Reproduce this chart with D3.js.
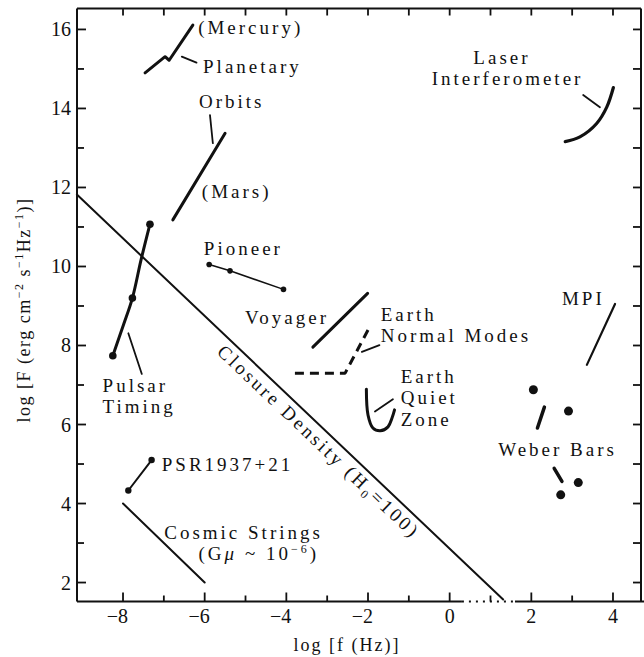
<!DOCTYPE html>
<html>
<head>
<meta charset="utf-8">
<script src="https://cdn.jsdelivr.net/npm/d3@7"></script>
<style>
body { margin: 0; background: #fff; }
svg { display: block; }
text { font-family: "Liberation Serif", "DejaVu Serif", serif; fill: #111; }
.lbl { font-size: 19px; letter-spacing: 3px; }
.tick-lbl { font-size: 20px; }
</style>
</head>
<body>
<svg width="644" height="657"></svg>
<script>
// axis ticks
const xTicksMajor = [-8, -6, -4, -2, 0, 2, 4];
const xTicksAll = [-8, -7, -6, -5, -4, -3, -2, -1, 0, 1, 2, 3, 4];
const yTicksMajor = [2, 4, 6, 8, 10, 12, 14, 16];
const yTicksAll = [2, 3, 4, 5, 6, 7, 8, 9, 10, 11, 12, 13, 14, 15, 16];

// curves, [log f, log F]
const closure = [[-9.13, 11.82], [1.31, 1.57]];
const mercury = [[-7.46, 14.90], [-6.97, 15.31], [-6.87, 15.22], [-6.29, 16.11]];
const mars = [[-6.78, 11.18], [-5.50, 13.37]];
const pioneer = [[-5.89, 10.05], [-5.38, 9.89], [-4.07, 9.42]];
const voyager = [[-3.35, 7.96], [-2.01, 9.32]];
const normalModes = [[-3.79, 7.30], [-2.56, 7.30], [-1.99, 8.41]];
const quietZone = [[-2.04, 6.89], [-2.00, 6.24], [-1.88, 5.91], [-1.70, 5.84], [-1.51, 5.94], [-1.41, 6.17], [-1.35, 6.37]];
const pulsar = [[-8.25, 7.74], [-7.99, 8.52], [-7.77, 9.20], [-7.56, 10.16], [-7.34, 11.07]];
const pulsarDots = [[-8.25, 7.74], [-7.77, 9.20], [-7.34, 11.07]];
const psr1937 = [[-7.87, 4.33], [-7.30, 5.10]];
const cosmicStrings = [[-8, 4], [-6, 2]];
const laser = [[2.83, 13.16], [3.19, 13.28], [3.60, 13.62], [3.85, 14.04], [4.01, 14.53]];
const mpi = [[3.36, 7.51], [4.05, 9.05]];
const weberDots = [[2.05, 6.88], [2.91, 6.34], [3.15, 4.53], [2.72, 4.22]];

// pointer lines from labels
const leaders = [
  [[-6.56, 15.31], [-6.20, 15.16]],
  [[-5.87, 13.83], [-5.80, 13.12]],
  [[-7.87, 8.31], [-7.54, 7.28]],
  [[-2.15, 7.84], [-1.72, 8.01]],
  [[-1.83, 6.33], [-1.39, 6.64]],
  [[3.27, 14.34], [3.68, 14.03]]
];
const weberStrokes = [
  [[2.32, 6.44], [2.15, 5.91]],
  [[2.56, 4.89], [2.75, 4.56]]
];

const labels = [
  ["(Mercury)", -6.16, 15.88],
  ["Planetary", -6.04, 14.89],
  ["Orbits", -6.14, 14.01],
  ["(Mars)", -6.07, 11.73],
  ["Pioneer", -6.02, 10.29],
  ["Voyager", -5.01, 8.55],
  ["Earth", -1.69, 8.63],
  ["Normal Modes", -1.69, 8.10],
  ["Earth", -1.20, 7.06],
  ["Quiet", -1.20, 6.52],
  ["Zone", -1.20, 5.96],
  ["Pulsar", -8.50, 6.83],
  ["Timing", -8.50, 6.29],
  ["PSR1937+21", -7.05, 4.83],
  ["Cosmic Strings", -6.99, 3.10],
  ["Laser", 0.58, 15.12],
  ["Interferometer", -0.44, 14.59],
  ["MPI", 2.75, 9.03],
  ["Weber Bars", 1.19, 5.21]
];

var svg = d3.select("svg");
const L = 77, R = 641, T = 8.5, B = 601.5;

var x = d3.scaleLinear().domain([-9.127, 4.686]).range([L, R]);
var y = d3.scaleLinear().domain([1.52, 16.53]).range([B, T]);

var line = d3.line().x(d => x(d[0])).y(d => y(d[1]));
var smooth = d3.line().x(d => x(d[0])).y(d => y(d[1])).curve(d3.curveCatmullRom);

function path(data, w, gen, dash) {
  var p = svg.append("path")
    .attr("d", (gen || line)(data))
    .attr("fill", "none")
    .attr("stroke", "#111")
    .attr("stroke-width", w)
    .attr("stroke-linecap", "round")
    .attr("stroke-linejoin", "round");
  if (dash) p.attr("stroke-dasharray", dash).attr("stroke-linecap", "butt");
  return p;
}

function dots(data, r) {
  svg.append("g").selectAll("circle")
    .data(data)
    .enter()
    .append("circle")
    .attr("cx", d => x(d[0]))
    .attr("cy", d => y(d[1]))
    .attr("r", r)
    .attr("fill", "#111");
}

// frame
var frame = svg.append("g").attr("stroke", "#111").attr("stroke-width", 2);
frame.append("line").attr("x1", L).attr("x2", L).attr("y1", T).attr("y2", B);
frame.append("line").attr("x1", R).attr("x2", R).attr("y1", T).attr("y2", B);
frame.append("line").attr("x1", L).attr("x2", R).attr("y1", T).attr("y2", T);
frame.append("line").attr("x1", L).attr("x2", x(0.3)).attr("y1", B).attr("y2", B);
frame.append("line").attr("x1", x(0.3)).attr("x2", x(1.6)).attr("y1", B).attr("y2", B)
  .attr("stroke-dasharray", "2,5");
frame.append("line").attr("x1", x(1.6)).attr("x2", 644).attr("y1", B).attr("y2", B);

// ticks, all pointing inward
var ticks = svg.append("g").attr("stroke", "#111").attr("stroke-width", 1.8);
xTicksAll.forEach(function(v) {
  var len = xTicksMajor.includes(v) ? 9 : 6;
  ticks.append("line").attr("x1", x(v)).attr("x2", x(v)).attr("y1", B).attr("y2", B - len);
  ticks.append("line").attr("x1", x(v)).attr("x2", x(v)).attr("y1", T).attr("y2", T + 7);
});
yTicksAll.forEach(function(v) {
  var len = yTicksMajor.includes(v) ? 9 : 7;
  ticks.append("line").attr("x1", L).attr("x2", L + len).attr("y1", y(v)).attr("y2", y(v));
  ticks.append("line").attr("x1", R).attr("x2", R - 8).attr("y1", y(v)).attr("y2", y(v));
});

// tick labels
svg.append("g").selectAll("text")
  .data(xTicksMajor)
  .enter()
  .append("text")
  .attr("class", "tick-lbl")
  .attr("x", d => x(d) + 5)
  .attr("y", B + 21)
  .attr("text-anchor", "end")
  .text(d => d < 0 ? "\u2212" + Math.abs(d) : d);

svg.append("g").selectAll("text")
  .data(yTicksMajor)
  .enter()
  .append("text")
  .attr("class", "tick-lbl")
  .attr("x", L - 6)
  .attr("y", d => y(d) + 7)
  .attr("text-anchor", "end")
  .text(d => d);

// axis titles
svg.append("text")
  .attr("x", 347).attr("y", 651)
  .attr("text-anchor", "middle")
  .style("font-size", "18px").style("letter-spacing", "2px")
  .text("log [f (Hz)]");

var yt = svg.append("text")
  .attr("transform", "translate(30,310) rotate(-90)")
  .attr("text-anchor", "middle")
  .style("font-size", "18px").style("letter-spacing", "1.5px");
yt.append("tspan").text("log [F (erg cm");
yt.append("tspan").attr("dy", -7).style("font-size", "12px").text("\u22122");
yt.append("tspan").attr("dy", 7).text(" s");
yt.append("tspan").attr("dy", -7).style("font-size", "12px").text("\u22121");
yt.append("tspan").attr("dy", 7).text("Hz");
yt.append("tspan").attr("dy", -7).style("font-size", "12px").text("\u22121");
yt.append("tspan").attr("dy", 7).text(")]");

// closure density
path(closure, 2);
var a = Math.atan2(y(closure[1][1]) - y(closure[0][1]), x(closure[1][0]) - x(closure[0][0]));
var px = x(-5.4), py = y(closure[0][1] + (closure[1][1] - closure[0][1]) * (-5.4 - closure[0][0]) / (closure[1][0] - closure[0][0]));
var bx = px - 19 * Math.sin(a), by = py + 19 * Math.cos(a);
var ct = svg.append("text")
  .attr("class", "lbl")
  .attr("transform", "translate(" + bx + "," + by + ") rotate(" + (a * 180 / Math.PI) + ")");
ct.append("tspan").text("Closure Density (H");
ct.append("tspan").attr("dy", 4).style("font-size", "12px").text("0");
ct.append("tspan").attr("dy", -4).text("=100)");

// sources
path(mercury, 3);
path(mars, 3);
path(pioneer, 1.5);
dots(pioneer, 2.8);
path(voyager, 3);
path(normalModes, 3, line, "9,6");
path(quietZone, 3, smooth);
path(pulsar, 3, smooth);
dots(pulsarDots, 3.8);
path(psr1937, 2);
dots(psr1937, 3.2);
path(cosmicStrings, 2);
path(laser, 3.2, smooth);
path(mpi, 2.2);
dots(weberDots, 4.5);
weberStrokes.forEach(s => path(s, 3.5));
leaders.forEach(s => path(s, 1.8));

// labels
svg.append("g").selectAll("text")
  .data(labels)
  .enter()
  .append("text")
  .attr("class", "lbl")
  .attr("x", d => x(d[1]))
  .attr("y", d => y(d[2]))
  .text(d => d[0]);

var gm = svg.append("text").attr("class", "lbl").attr("x", x(-6.15)).attr("y", y(2.56));
gm.append("tspan").text("(G");
gm.append("tspan").style("font-style", "italic").text("\u03bc");
gm.append("tspan").text(" ~ 10");
gm.append("tspan").attr("dy", -7).style("font-size", "12px").text("\u22126");
gm.append("tspan").attr("dy", 7).text(")");
</script>
</body>
</html>
